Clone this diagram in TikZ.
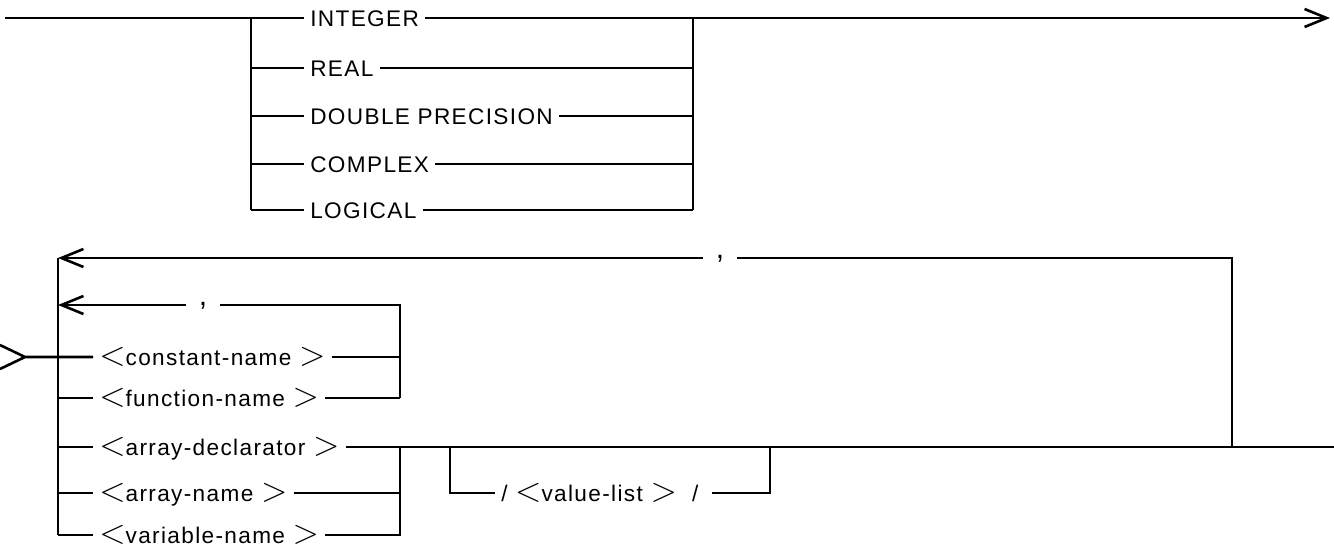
\documentclass[tikz,border=0pt]{standalone}
\usepackage{fontspec}
\setmainfont{Liberation Sans}[LetterSpace=6]
\usetikzlibrary{arrows.meta}
\newcommand*\SDlt{{\fontsize{16}{16}\selectfont$<$}}
\newcommand*\SDgt{{\fontsize{16}{16}\selectfont$>$}}

\begin{document}
\begin{tikzpicture}[font=\fontsize{11.3}{13}\selectfont,x=.5pt,y=-.5pt,line width=1.3pt,
 SDoznaka/.style={anchor=west,inner xsep=2.5pt,inner ysep=0pt,text height=8pt,text depth=0pt},
 SDzarez/.style={font=\fontsize{15}{15}\selectfont,inner sep=0pt,text height=0pt,text depth=0pt,minimum width=16pt},
 SDstrelica/.style={-{Straight Barb[length=11pt,width=9pt]}}]
\useasboundingbox (0,0) rectangle (1334,547);
% gornji dio
\coordinate (ulaz) at (5,18);
\coordinate (izlaz) at (1330,18);
\coordinate (gl) at (251,18);
\coordinate (gd) at (693,18);
\foreach \y/\lab/\ime in {18/INTEGER/int,68/REAL/real,116/DOUBLE PRECISION/dbl,164/COMPLEX/cplx,210/LOGICAL/logi}{
 \node[SDoznaka] (\ime) at (304,\y) {\lab};
 \draw (gl |- \ime.west) -- (\ime.west) (\ime.east) -- (gd |- \ime.east);}
\draw (ulaz) -- (gl) (gl) -- (gl |- logi.west) (gd) -- (gd |- logi.east);
\draw[SDstrelica] (gd) -- (izlaz);
% donji dio
\coordinate (nast) at (25,357);
\coordinate (dl) at (58,258);
\coordinate (dz) at (1232,258);
\coordinate (kd) at (400,305);
\coordinate (izlaz2) at (1334,447);
\foreach \y/\lab/\ime in {357/{\SDlt constant-name \SDgt}/cst,398/{\SDlt function-name \SDgt}/fn,447/{\SDlt array-declarator \SDgt}/ad,493/{\SDlt array-name \SDgt}/an,535/{\SDlt variable-name \SDgt}/vn}{
 \node[SDoznaka] (\ime) at (93,\y) {\lab};
 \draw (dl |- \ime.west) -- (\ime.west);}
\draw (0,345) -- (nast) -- (0,369) (nast) -- (cst.west);
\draw (dl) -- (dl |- vn.west);
\node[SDzarez] (z1) at (720,258) {,};
\node[SDzarez] (z2) at (203,305) {,};
\draw[SDstrelica] (z1.west) -- (dl);
\draw (z1.east) -- (dz) -- (dz |- ad.east);
\draw[SDstrelica] (z2.west) -- (dl |- z2.west);
\draw (z2.east) -- (kd) -- (kd |- fn.east);
\draw (cst.east) -- (kd |- cst.east) (fn.east) -- (kd |- fn.east);
\draw (an.east) -- (kd |- an.east) (vn.east) -- (kd |- vn.east) -- (kd |- ad.east);
\draw (ad.east) -- (izlaz2);
% vrijednosti
\coordinate (vl1) at (450,447);
\coordinate (vl2) at (770,447);
\node[SDoznaka] (vl) at (495,493) {/ \SDlt value-list \SDgt\ \ /\ \ };
\draw (vl1) -- (vl1 |- vl.west) -- (vl.west) (vl.east) -- (vl2 |- vl.east) -- (vl2);
\end{tikzpicture}
\end{document}
